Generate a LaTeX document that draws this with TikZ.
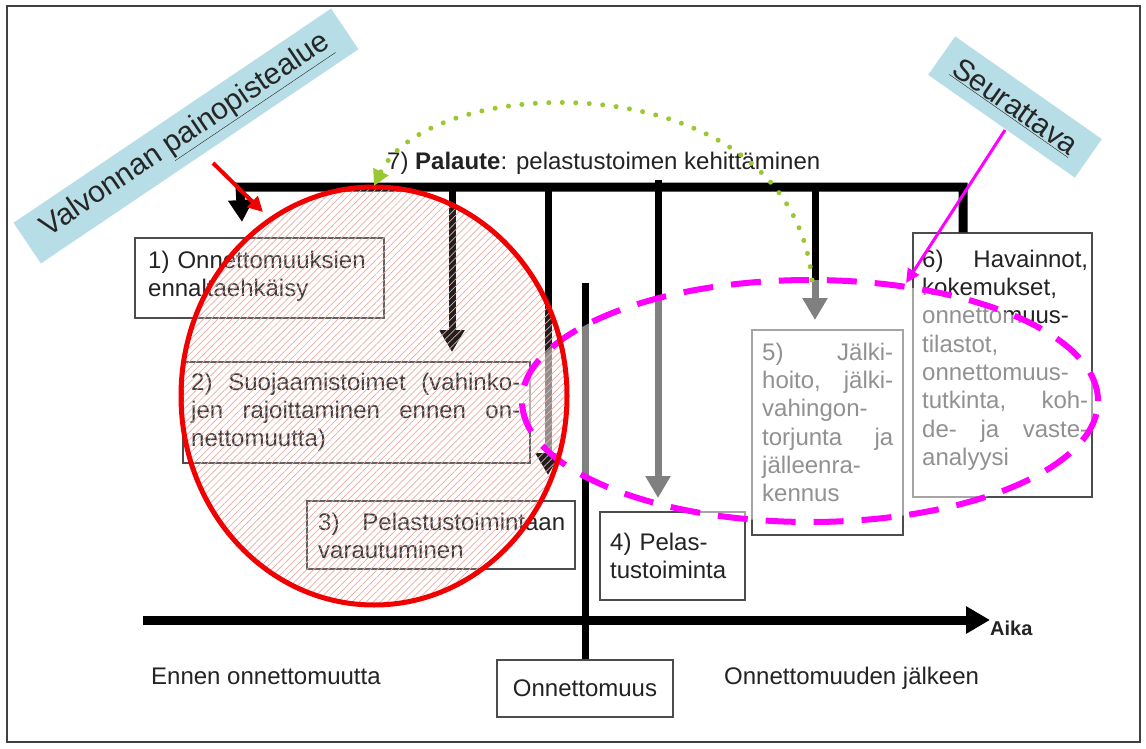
\documentclass[tikz,border=0pt]{standalone}
\usepackage{fontspec}
\setmainfont{Liberation Sans}
\usetikzlibrary{arrows.meta,patterns.meta}
\definecolor{lblue}{RGB}{183,221,230}
\definecolor{ygreen}{RGB}{154,200,50}
\definecolor{txt}{RGB}{35,35,35}
\definecolor{mag}{RGB}{255,0,255}
\definecolor{rd}{RGB}{240,0,0}
\definecolor{hatch}{RGB}{238,170,162}
\newcommand{\boxfont}{\fontsize{24}{28.3}\selectfont}
\begin{document}
\begin{tikzpicture}[x=1pt,y=-1pt,
  box/.style={draw=black!70,line width=1.3pt,inner sep=0pt},
  txtbox/.style={anchor=north west,inner sep=0pt,align=left,font=\boxfont,text=txt},
  plain/.style={anchor=base west,inner sep=0pt,font=\boxfont,text=txt},
  bar/.style={line width=9pt},
  vline/.style={line width=7pt},
  tipA/.style={-{Triangle[length=22pt,width=24pt]}},
  lab/.style={fill=lblue,inner sep=0pt,font=\fontsize{30}{36}\selectfont,text=black!85}
]
\useasboundingbox (0,0) rectangle (1146,749);
\fill[white] (0,0) rectangle (1146,749);
\draw[black!75,line width=1.5pt] (7,6) rectangle (1140,742);

% boxes
\node[box,minimum width=249pt,minimum height=80pt] (b1) at (259.5,278) {};
\node[box,minimum width=347pt,minimum height=101pt] (b2) at (356.5,412.5) {};
\node[box,minimum width=268pt,minimum height=68pt] (b3) at (441,535) {};
\node[box,minimum width=145pt,minimum height=88pt] (b4) at (672.5,556) {};
\node[box,minimum width=151pt,minimum height=205pt] (b5) at (827.5,432.5) {};
\node[box,minimum width=179pt,minimum height=264pt] (b6) at (1002.5,365) {};
\node[box,minimum width=176pt,minimum height=57pt,font=\boxfont,text=txt] (b7) at (585,688.5) {Onnettomuus};

% box texts
\node[txtbox,text width=232pt] (t1) at (148,248.2) {\strut 1) Onnettomuuksien\\ ennaltaehkäisy};
\node[txtbox,text width=329pt] (t2) at (191,370.2) {\strut 2)\hfill Suojaamistoimet\hfill (vahinko-\\ jen\hfill rajoittaminen\hfill ennen\hfill on-\\ nettomuutta)};
\node[txtbox,text width=247pt] (t3) at (318,510.2) {\strut 3)\hfill Pelastustoimintaan\\ varautuminen};
\node[txtbox,text width=130pt] (t4) at (610,530.2) {\strut 4) Pelas-\\ tustoiminta};
\node[txtbox,text width=131pt] (t5) at (762,340.2) {\strut 5)\hfill Jälki-\\ hoito,\hfill jälki-\\ vahingon-\\ torjunta\hfill ja\\ jälleenra-\\ kennus};
\node[txtbox,text width=166pt] (t6) at (922,247.2) {\strut 6)\hfill Havainnot,\\ kokemukset,\\ onnettomuus-\\ tilastot,\\ onnettomuus-\\ tutkinta,\hfill koh-\\ de-\hfill ja\hfill vaste-\\ analyysi};

% other texts
\node[plain] (fb) at (387,169) {7) \textbf{Palaute}: pelastustoimen kehittäminen};
\node[plain,font=\fontsize{20}{24}\selectfont\bfseries] (aika) at (990,635) {Aika};
\node[plain] (ennen) at (151,684) {Ennen onnettomuutta};
\node[plain] (jalk) at (724,684) {Onnettomuuden jälkeen};

% coordinates
\coordinate (barL) at (240,187);
\coordinate (barR) at (963,187);
\coordinate (tip0) at (242,222);
\coordinate (a1) at (452,352);
\coordinate (a2) at (548,475);
\coordinate (a3) at (658,498);
\coordinate (a3s) at (658,180);
\coordinate (a4) at (815,320);
\coordinate (a4s) at (815,183);
\coordinate (on0) at (585,283);
\coordinate (ax0) at (143,620);
\coordinate (ax1) at (990,620);

% feedback bar
\draw[bar,tipA] (b6.north -| barR) |- (barL) -- (tip0);
\draw[vline,tipA] (a1 |- barL) -- (a1);
\draw[vline,tipA] (a2 |- barL) -- (a2);
\draw[vline,tipA] (a3s) -- (a3);
\draw[vline,tipA] (a4s) -- (a4);
\draw[vline] (on0) -- (b7.north);
\draw[line width=9pt,-{Triangle[length=24pt,width=26pt]}] (ax0) -- (ax1);

% overlays
\fill[white,fill opacity=0.5] (810,401) ellipse [x radius=288pt,y radius=121pt];
\fill[white,fill opacity=0.12] (374,396) ellipse [x radius=193pt,y radius=209pt];
\fill[pattern={Lines[angle=45,distance=5pt,line width=0.7pt]},pattern color=hatch] (374,396) ellipse [x radius=193pt,y radius=209pt];
\draw[mag,line width=6pt,dash pattern=on 30pt off 18pt] (810,401) ellipse [x radius=288pt,y radius=121pt];
\draw[rd,line width=5pt] (374,396) ellipse [x radius=193pt,y radius=209pt];

% green feedback arc
\coordinate (gA) at (812,280);
\coordinate (gB) at (374,186);
\draw[ygreen,line width=5pt,line cap=round,dash pattern=on 0pt off 13.5pt,-{Triangle[length=16pt,width=16pt]}] (gA) .. controls (790,60) and (430,70) .. (gB);

% labels
\node[lab,rotate=34,minimum width=383pt,minimum height=49pt] (valv) at (186,136) {Valvonnan \underline{painopistealue}};
\node[lab,rotate=-35,minimum width=179pt,minimum height=47pt] (seur) at (1015,107) {\underline{Seurattava}};
\coordinate (r0) at (213,163);
\coordinate (r1) at (263,212);
\draw[rd,line width=4pt,-{Triangle[length=15pt,width=15pt]}] (r0) -- (r1);
\coordinate (m0) at (1005,130);
\coordinate (m1) at (906,283);
\draw[mag,line width=3pt,-{Triangle[length=14pt,width=13pt]}] (m0) -- (m1);
\end{tikzpicture}
\end{document}
